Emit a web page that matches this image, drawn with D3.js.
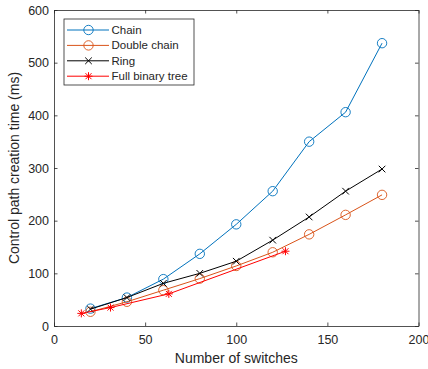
<!DOCTYPE html>
<html>
<head>
<meta charset="utf-8">
<script src="https://cdn.jsdelivr.net/npm/d3@7"></script>
<style>
  body { margin: 0; background: #fff; }
  text { font-family: "Liberation Sans", Arial, sans-serif; fill: #262626; }
</style>
</head>
<body>
<svg id="chart" width="428" height="369"></svg>
<script>
// Data
const switchesChain = [20, 40, 60, 80, 100, 120, 140, 160, 180];
const chainTime = [33, 54, 89, 137, 193, 256, 350, 406, 537];
const doubleChainTime = [27, 46, 68, 90, 114, 140, 174, 211, 249];
const ringTime = [32, 54, 81, 100, 123, 163, 207, 256, 298];
const switchesTree = [15, 31, 63, 127];
const treeTime = [24, 35, 61, 142];

const xTicks = [0, 50, 100, 150, 200];
const yTicks = [0, 100, 200, 300, 400, 500, 600];

const series = [
  { name: 'Chain', x: switchesChain, y: chainTime, color: '#0072BD', marker: 'circle' },
  { name: 'Double chain', x: switchesChain, y: doubleChainTime, color: '#D95319', marker: 'circle' },
  { name: 'Ring', x: switchesChain, y: ringTime, color: '#000000', marker: 'cross' },
  { name: 'Full binary tree', x: switchesTree, y: treeTime, color: '#FF0000', marker: 'star' }
];

const svg = d3.select('#chart');
const margin = { top: 10, right: 9.5, bottom: 43, left: 54 };
const width = 428 - margin.left - margin.right;
const height = 369 - margin.top - margin.bottom;

const g = svg.append('g')
  .attr('transform', `translate(${margin.left},${margin.top})`);

const x = d3.scaleLinear().domain([0, 200]).range([0, width]);
const y = d3.scaleLinear().domain([0, 600]).range([height, 0]);

// Axes with inward ticks, mirrored on top/right like MATLAB box
const axisColor = '#262626';
const tickLen = 3.5;

const xAxis = g.append('g')
  .attr('transform', `translate(0,${height})`)
  .call(d3.axisBottom(x).tickValues(xTicks).tickSizeInner(-tickLen).tickSizeOuter(0).tickPadding(9));
const yAxis = g.append('g')
  .call(d3.axisLeft(y).tickValues(yTicks).tickSizeInner(-tickLen).tickSizeOuter(0).tickPadding(5));
const xTop = g.append('g')
  .call(d3.axisTop(x).tickValues(xTicks).tickSizeInner(-tickLen).tickSizeOuter(0).tickFormat(''));
const yRight = g.append('g')
  .attr('transform', `translate(${width},0)`)
  .call(d3.axisRight(y).tickValues(yTicks).tickSizeInner(-tickLen).tickSizeOuter(0).tickFormat(''));

[xAxis, yAxis, xTop, yRight].forEach(a => {
  a.selectAll('path').attr('stroke', axisColor).attr('stroke-width', 0.8);
  a.selectAll('line').attr('stroke', axisColor).attr('stroke-width', 0.8);
  a.selectAll('text').attr('font-size', '12.5px').attr('fill', axisColor)
    .attr('font-family', '"Liberation Sans", Arial, sans-serif');
});

// Axis labels
g.append('text')
  .attr('x', width / 2)
  .attr('y', height + 37)
  .attr('text-anchor', 'middle')
  .attr('font-size', '14px')
  .text('Number of switches');

g.append('text')
  .attr('transform', 'rotate(-90)')
  .attr('x', -height / 2)
  .attr('y', -35.5)
  .attr('text-anchor', 'middle')
  .attr('font-size', '14px')
  .text('Control path creation time (ms)');

// markers
function drawMarker(sel, type, color) {
  if (type === 'circle') {
    sel.append('circle').attr('r', 4.7).attr('fill', 'none')
      .attr('stroke', color).attr('stroke-width', 0.9);
  } else if (type === 'cross') {
    sel.append('path').attr('d', 'M-3.3,-3.3L3.3,3.3M-3.3,3.3L3.3,-3.3')
      .attr('stroke', color).attr('stroke-width', 1);
  } else if (type === 'star') {
    sel.append('path')
      .attr('d', 'M-4,0L4,0M0,-4L0,4M-3,-3L3,3M-3,3L3,-3')
      .attr('stroke', color).attr('stroke-width', 1);
  }
}

const line = d3.line().x(d => x(d[0])).y(d => y(d[1]));

series.forEach(s => {
  const pts = s.x.map((v, i) => [v, s.y[i]]);
  g.append('path')
    .datum(pts)
    .attr('d', line)
    .attr('fill', 'none')
    .attr('stroke', s.color)
    .attr('stroke-width', 1);
  g.append('g').selectAll('g')
    .data(pts)
    .join('g')
    .attr('transform', d => `translate(${x(d[0])},${y(d[1])})`)
    .each(function () { drawMarker(d3.select(this), s.marker, s.color); });
});

// Legend
const legend = g.append('g').attr('transform', 'translate(10,9)');
legend.append('rect')
  .attr('width', 130).attr('height', 66)
  .attr('fill', '#fff').attr('stroke', axisColor).attr('stroke-width', 0.8);

series.forEach((s, i) => {
  const row = legend.append('g').attr('transform', `translate(0,${11 + i * 15.4})`);
  row.append('line')
    .attr('x1', 3).attr('x2', 45)
    .attr('stroke', s.color).attr('stroke-width', 1);
  const m = row.append('g').attr('transform', 'translate(24.5,0)');
  drawMarker(m, s.marker, s.color);
  row.append('text')
    .attr('x', 47.5).attr('y', 4)
    .attr('font-size', '11.5px')
    .attr('fill', '#000')
    .text(s.name);
});
</script>
</body>
</html>
